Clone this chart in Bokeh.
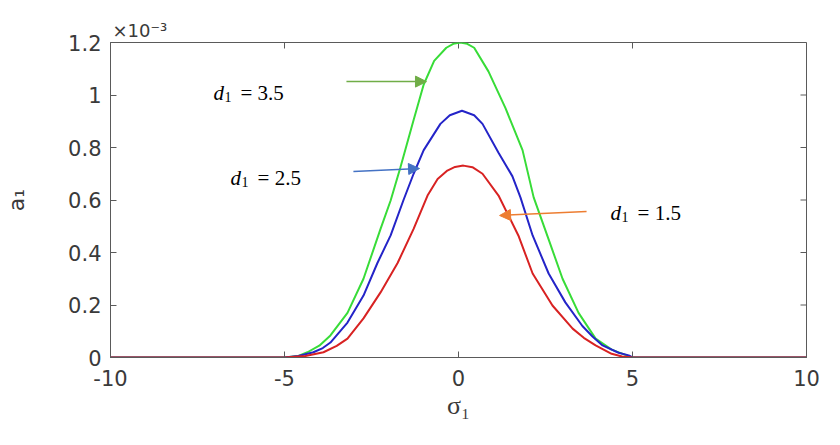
from bokeh.plotting import figure
from bokeh.models import (Range1d, FixedTicker, NumeralTickFormatter,
                          Label, Arrow, NormalHead, Title)
from bokeh.embed import file_html
from bokeh.resources import INLINE

# values of a1 in units of 1e-3
sigma_d35 = [-10, -5, -4.6, -4.34, -4.0, -3.68, -3.19, -2.73, -2.24, -1.95, -1.67, -1.3, -1.0, -0.7,
             -0.35, -0.15, 0.05, 0.25, 0.45, 0.86, 1.35, 1.84, 2.16, 2.59, 2.99, 3.45, 3.94, 4.4,
             4.7, 5, 10]
a_d35 = [0, 0, 0.006, 0.02, 0.045, 0.084, 0.17, 0.30, 0.49, 0.598, 0.724, 0.90, 1.04, 1.13,
         1.18, 1.195, 1.2, 1.195, 1.18, 1.09, 0.95, 0.79, 0.61, 0.45, 0.30, 0.17, 0.072, 0.03,
         0.015, 0, 0]

sigma_d25 = [-10, -5, -4.6, -4.17, -3.9, -3.68, -3.19, -2.73, -2.33, -1.95, -1.58, -1.29, -1.0,
             -0.52, -0.25, 0.1, 0.45, 0.69, 1.15, 1.55, 1.78, 2.13, 2.59, 3.07, 3.56, 3.85, 4.14,
             4.6, 4.89, 5, 10]
a_d25 = [0, 0, 0.006, 0.02, 0.036, 0.057, 0.133, 0.236, 0.36, 0.465, 0.60, 0.70, 0.79,
         0.89, 0.923, 0.94, 0.923, 0.89, 0.78, 0.69, 0.61, 0.465, 0.32, 0.21, 0.12, 0.08, 0.046,
         0.018, 0.008, 0, 0]

sigma_d15 = [-10, -5, -4.4, -3.88, -3.5, -3.19, -2.73, -2.24, -1.75, -1.29, -0.89, -0.6, -0.32,
             -0.1, 0.14, 0.4, 0.69, 1.15, 1.72, 2.13, 2.70, 3.28, 3.6, 3.94, 4.4, 4.7, 5, 10]
a_d15 = [0, 0, 0.006, 0.02, 0.044, 0.072, 0.149, 0.248, 0.36, 0.49, 0.617, 0.68, 0.712,
         0.726, 0.731, 0.725, 0.70, 0.617, 0.465, 0.32, 0.198, 0.11, 0.075, 0.046, 0.014,
         0.004, 0, 0]

x_ticks = [-10, -5, 0, 5, 10]
y_ticks = [0, 0.2, 0.4, 0.6, 0.8, 1.0, 1.2]

GRAY = "#3a3a3a"
AX = "#5a5a5a"
FW, FH = 696, 315
X0, X1, Y0, Y1 = -10, 10, 0, 1.2

p = figure(frame_width=FW, frame_height=FH,
           x_range=Range1d(X0, X1), y_range=Range1d(Y0, Y1),
           output_backend="svg", toolbar_location=None,
           min_border_left=110, min_border_right=30, min_border_top=42, min_border_bottom=84)
p.grid.visible = False
p.outline_line_color = AX
p.background_fill_color = "white"

xb = p.below[0]
yl = p.left[0]

for ax in (xb, yl):
    ax.axis_line_color = AX
    ax.major_tick_line_color = AX
    ax.minor_tick_line_color = None
    ax.major_tick_in = 6
    ax.major_tick_out = 0
    ax.major_label_text_font = "DejaVu Sans"
    ax.major_label_text_font_size = "21px"
    ax.major_label_text_color = GRAY

xb.ticker = FixedTicker(ticks=x_ticks)
yl.ticker = FixedTicker(ticks=y_ticks)
xb.formatter = NumeralTickFormatter(format="0")
yl.formatter = NumeralTickFormatter(format="0.[0]")
xb.major_label_standoff = 12
yl.major_label_standoff = 9

# inward tick marks on the top and right edges of the box
tick_len = 6
dy = tick_len * (Y1 - Y0) / FH
dx = tick_len * (X1 - X0) / FW
p.segment(x0=x_ticks, y0=[Y1] * len(x_ticks), x1=x_ticks, y1=[Y1 - dy] * len(x_ticks),
          line_color=AX, line_width=1)
p.segment(x0=[X1] * len(y_ticks), y0=y_ticks, x1=[X1 - dx] * len(y_ticks), y1=y_ticks,
          line_color=AX, line_width=1)

p.add_layout(Title(text="×10⁻³", align="left", offset=2, standoff=3,
                   text_font="DejaVu Sans", text_font_size="18px",
                   text_font_style="normal", text_color=GRAY), "above")

xb.axis_label = "σ₁"
xb.axis_label_text_font = "Liberation Serif"
xb.axis_label_text_font_style = "normal"
xb.axis_label_text_font_size = "26px"
xb.axis_label_text_color = GRAY
xb.axis_label_standoff = 2

yl.axis_label = "a₁"
yl.axis_label_text_font = "DejaVu Sans"
yl.axis_label_text_font_style = "normal"
yl.axis_label_text_font_size = "22px"
yl.axis_label_text_color = GRAY
yl.axis_label_standoff = 36

p.line(sigma_d35, a_d35, line_color="#38dc38", line_width=2)
p.line(sigma_d25, a_d25, line_color="#2424c8", line_width=2)
p.line(sigma_d15, a_d15, line_color="#d82222", line_width=2)

# annotations
ann = [("3.5", -7.04, 1.006, "#70ad47", (-3.22, 1.051), (-0.92, 1.051)),
       ("2.5", -6.55, 0.682, "#4472c4", (-3.02, 0.709), (-1.12, 0.72)),
       ("1.5", 4.37, 0.549, "#ed7d31", (3.68, 0.556), (1.18, 0.541))]
for val, tx, ty, col, s, e in ann:
    p.add_layout(Label(x=tx, y=ty, text="d", text_font="Liberation Serif",
                       text_font_style="italic", text_font_size="21px",
                       text_color="black", text_baseline="alphabetic"))
    p.add_layout(Label(x=tx, y=ty, x_offset=11, y_offset=-4, text="1", text_font="Liberation Serif",
                       text_font_size="14px", text_color="black", text_baseline="alphabetic"))
    p.add_layout(Label(x=tx, y=ty, x_offset=27, text="= " + val, text_font="Liberation Serif",
                       text_font_size="21px", text_color="black", text_baseline="alphabetic"))
    p.add_layout(Arrow(x_start=s[0], y_start=s[1], x_end=e[0], y_end=e[1],
                       line_color=col, line_width=1.5,
                       end=NormalHead(size=11, fill_color=col, line_color=col)))

open("out.html", "w").write(file_html(p, INLINE))
